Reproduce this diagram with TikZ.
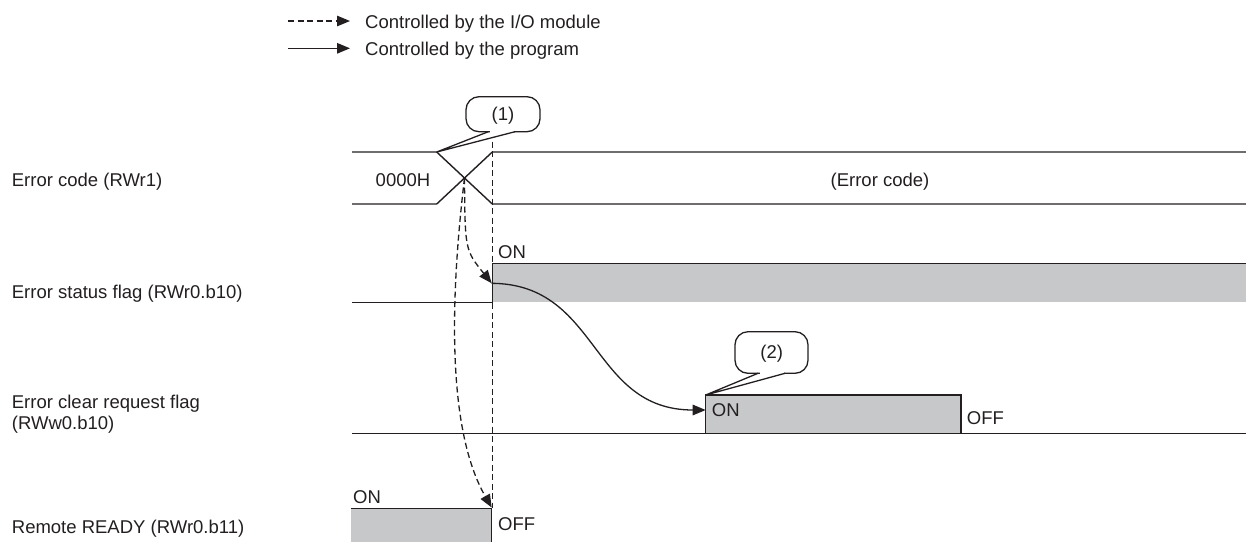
\documentclass[tikz,border=0pt]{standalone}
\usepackage{fontspec}
\setmainfont{Liberation Sans}
\usetikzlibrary{arrows.meta}
\definecolor{ink}{HTML}{231F20}
\definecolor{fillg}{HTML}{C7C8CA}
\begin{document}
\begin{tikzpicture}[x=1pt,y=-1pt,
  lbl/.style={anchor=base west, inner sep=0pt, text=ink, font=\fontsize{18.5}{22}\selectfont},
  ctr/.style={anchor=base, inner sep=0pt, text=ink, font=\fontsize{18.5}{22}\selectfont},
  sig/.style={draw=ink, line width=1.4pt, line join=miter},
  hi/.style={fill=fillg},
  dsh/.style={draw=ink, line width=1.3pt, dash pattern=on 6pt off 3.5pt},
  io/.style={dsh, -{Triangle[length=13pt,width=10.5pt]}},
  prog/.style={draw=ink, line width=1.3pt, -{Triangle[length=13pt,width=10.5pt]}},
  callout/.style={draw=ink, fill=white, line width=1.3pt}]
\useasboundingbox (0,0) rectangle (1246,542);

% legend
\coordinate (lgA1) at (288,21);
\coordinate (lgA2) at (350,21);
\coordinate (lgB1) at (288,48.3);
\coordinate (lgB2) at (350,48.3);
\draw[io] (lgA1) -- (lgA2);
\draw[prog] (lgB1) -- (lgB2);
\node[lbl] (lgtA) at (365,28.3) {Controlled by the I/O module};
\node[lbl] (lgtB) at (365,55) {Controlled by the program};

% row labels
\node[lbl] (lab1) at (11.7,186) {Error code (RWr1)};
\node[lbl] (lab2) at (11.7,298.5) {Error status flag (RWr0.b10)};
\node[lbl] (lab3a) at (11.7,408.3) {Error clear request flag};
\node[lbl] (lab3b) at (11.7,429.3) {(RWw0.b10)};
\node[lbl] (lab4) at (11.7,533.3) {Remote READY (RWr0.b11)};

% key coordinates
\coordinate (xs) at (436.7,152);
\coordinate (cross) at (464.5,178);
\coordinate (rise1) at (491.7,283.3);
\coordinate (clr) at (705.7,410);
\coordinate (rdy) at (491.7,507.5);
\coordinate (vtop) at (492.3,141.7);
\coordinate (vbot) at (492.3,508.3);

% Error code
\draw[sig] (352,152) -- (xs) -- (492.3,204) -- (1246,204);
\draw[sig] (352,204) -- (436.7,204) -- (492.3,152) -- (1246,152);
\node[ctr] (v0) at (403,186) {0000H};
\node[ctr] (vE) at (880,186) {(Error code)};

% Error status flag
\fill[hi] (492.3,263.3) rectangle (1246,302.3);
\draw[sig] (352,302.3) -- (492.3,302.3) -- (492.3,263.3) -- (1246,263.3);
\node[lbl] (on1) at (498,258.3) {ON};

% Error clear request flag
\fill[hi] (705.7,395) rectangle (961,433.3);
\draw[sig] (352,433.3) -- (1246,433.3);
\draw[sig] (705.7,433.3) -- (705.7,395) -- (961,395) -- (961,433.3);
\node[lbl] (on2) at (711.7,416.7) {ON};
\node[lbl] (off2) at (966.7,424) {OFF};

% Remote READY
\fill[hi] (350.5,508.3) rectangle (491.7,542);
\draw[sig] (350.5,508.3) -- (491.7,508.3) -- (491.7,542);
\node[lbl] (on3) at (353,503.3) {ON};
\node[lbl] (off3) at (498,530.7) {OFF};

% dashed timing line and I/O-controlled arrows
\draw[dsh] (vtop) -- (vbot);
\draw[io] (cross) .. controls (465,250) .. (rise1);
\draw[io] (cross) .. controls (450,300) and (447,430) .. (rdy);

% program-controlled arrow
\draw[prog] (rise1) .. controls (600,284) and (590,410) .. (clr);

% callout (1)
\draw[callout, rounded corners=13pt] (466,96.7) rectangle (540,131.7);
\fill[white] (489.8,128.5) rectangle (513.5,134.5);
\draw[ink, line width=1.3pt, line join=miter] (488.3,131.7) -- (xs) -- (515,131.7);
\node[ctr] (c1) at (503,120.6) {(1)};

% callout (2)
\coordinate (xs2) at (705.7,395);
\draw[callout, rounded corners=13pt] (735,331.7) rectangle (808,373.3);
\fill[white] (759.5,370.5) rectangle (783.5,376);
\draw[ink, line width=1.3pt, line join=miter] (758,373.3) -- (xs2) -- (785,373.3);
\node[ctr] (c2) at (771.7,358.5) {(2)};
\end{tikzpicture}
\end{document}
